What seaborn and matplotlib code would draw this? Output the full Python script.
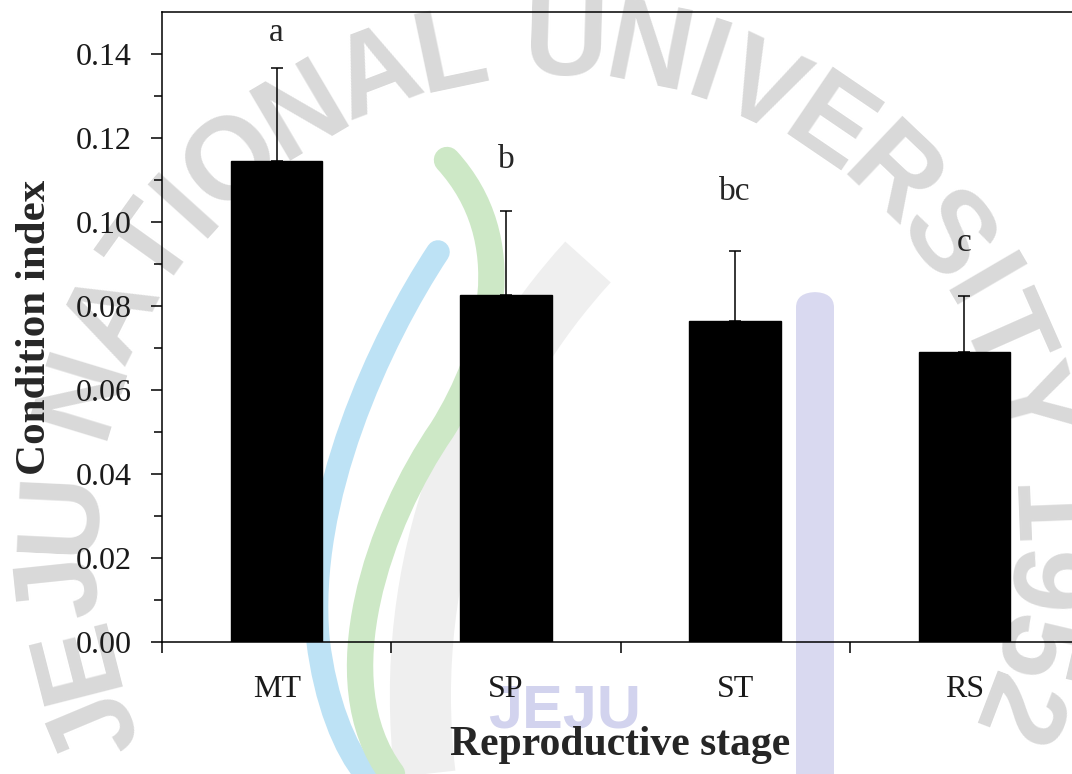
import numpy as np
import pandas as pd
import matplotlib
matplotlib.use("Agg")
import matplotlib.pyplot as plt
from matplotlib.path import Path
from matplotlib.patches import PathPatch, FancyBboxPatch
from matplotlib.ticker import MultipleLocator, FixedLocator, FormatStrFormatter
import seaborn as sns

# Condition index by reproductive stage (mean and upper SD)
stages = ["MT", "SP", "ST", "RS"]
mean_ci = [0.1145, 0.0826, 0.0764, 0.0690]
sd_ci = [0.0222, 0.0200, 0.0167, 0.0134]
group_letters = ["a", "b", "bc", "c"]
letter_y = [0.1450, 0.1148, 0.1071, 0.0950]

W, H = 1072, 774

sns.set_style("ticks")
plt.rcParams["font.family"] = ["Liberation Serif", "DejaVu Serif"]

fig = plt.figure(figsize=(W / 100, H / 100), dpi=100)
fig.patch.set_facecolor("white")


def fp(x, y):
    """Pixel position (origin top-left) to figure fraction."""
    return (x / W, 1 - y / H)


def band(points, color, lw, cap="round"):
    """Thick stroke along chained cubic Bezier segments (pixel coords)."""
    verts = [fp(*p) for p in points]
    codes = [Path.MOVETO] + [Path.CURVE4] * (len(points) - 1)
    fig.add_artist(PathPatch(Path(verts, codes), transform=fig.transFigure,
                             fill=False, edgecolor=color, lw=lw,
                             capstyle=cap, joinstyle="round", zorder=-6))


# Background watermark: logo bands
band([(425, 774), (400, 560), (480, 380), (588, 262)], "#efefef", 44, "butt")
band([(438, 252), (380, 340), (305, 500), (318, 640),
      (325, 700), (345, 750), (366, 774)], "#bde2f5", 17)
band([(447, 160), (520, 240), (492, 350), (442, 430),
      (380, 520), (322, 680), (392, 774)], "#cde8c6", 19)
fig.add_artist(FancyBboxPatch(fp(796, 800), 38 / W, (800 - 292) / H,
                              boxstyle="round,pad=0,rounding_size=0.02",
                              transform=fig.transFigure, facecolor="#d9d9f0",
                              edgecolor="none", zorder=-6))
fig.text(*fp(565, 712), "JEJU", ha="center", va="center", fontsize=44,
         family="Liberation Sans", fontweight="bold", color="#d2d3ee",
         zorder=-5)

# Background watermark: arched institution name
wm = "JEJU NATIONAL UNIVERSITY 1952"
adv = {"J": .556, "E": .667, "U": .722, " ": .278, "N": .722, "A": .722,
       "T": .611, "I": .278, "O": .778, "L": .611, "V": .667, "R": .722,
       "S": .667, "Y": .667, "1": .556, "9": .556, "5": .556, "2": .556}
w = np.array([adv[c] + 0.12 for c in wm])
centers = np.cumsum(w) - w / 2
frac = (centers - centers[0]) / (centers[-1] - centers[0])
angles = 202.7 + frac * (-21.0 - 202.7)
cx, cy, r = 552, 535, 490
for ch, th in zip(wm, angles):
    t = np.deg2rad(th)
    x, y = cx + r * np.cos(t), cy - r * np.sin(t)
    fig.text(*fp(x, y), ch, rotation=th - 90, rotation_mode="anchor",
             ha="center", va="center", fontsize=84, family="Liberation Sans",
             fontweight="bold", color="#d9d9d9", zorder=-5)

# Bar chart
ax = fig.add_axes([162 / W, 132 / H, (1079 - 162) / W, 630 / H])
ax.set_facecolor("none")

df = pd.DataFrame({"stage": stages, "ci": mean_ci})
sns.barplot(data=df, x="stage", y="ci", color="black", saturation=1,
            width=0.4, errorbar=None, edgecolor="black", ax=ax, zorder=3)
ax.errorbar(np.arange(len(stages)), mean_ci,
            yerr=[np.zeros(len(stages)), sd_ci], fmt="none", ecolor="black",
            elinewidth=1.1, capsize=4, capthick=1.1, zorder=2)

for i, (lab, ly) in enumerate(zip(group_letters, letter_y)):
    ax.text(i, ly, lab, ha="center", va="center", fontsize=24)

ax.set_xlim(-0.5, 3.5)
ax.set_ylim(0, 0.15)
ax.yaxis.set_major_locator(MultipleLocator(0.02))
ax.yaxis.set_minor_locator(FixedLocator(np.arange(0.01, 0.14, 0.02)))
ax.yaxis.set_major_formatter(FormatStrFormatter("%.2f"))
ax.xaxis.set_minor_locator(FixedLocator(np.arange(-0.5, 3.6, 1.0)))

ax.tick_params(axis="y", which="major", length=8, width=1.1, direction="out",
               labelsize=23, pad=14, color="black", labelcolor="#1a1a1a")
ax.tick_params(axis="y", which="minor", length=5.5, width=1.1,
               direction="out", color="black")
ax.tick_params(axis="x", which="major", length=0, labelsize=23, pad=24,
               labelcolor="#1a1a1a")
ax.tick_params(axis="x", which="minor", length=8, width=1.1,
               direction="out", color="black")

for side in ("left", "bottom", "top"):
    ax.spines[side].set_visible(True)
    ax.spines[side].set_color("black")
    ax.spines[side].set_linewidth(1.1)
ax.spines["right"].set_visible(False)

ax.set_xlabel("Reproductive stage", fontsize=30, fontweight="bold")
ax.xaxis.set_label_coords(0.5, -0.1335)
ax.set_ylabel("Condition index", fontsize=31, fontweight="bold")
ax.yaxis.set_label_coords(-0.118, 0.5)

fig.savefig("out.png", dpi=100)
